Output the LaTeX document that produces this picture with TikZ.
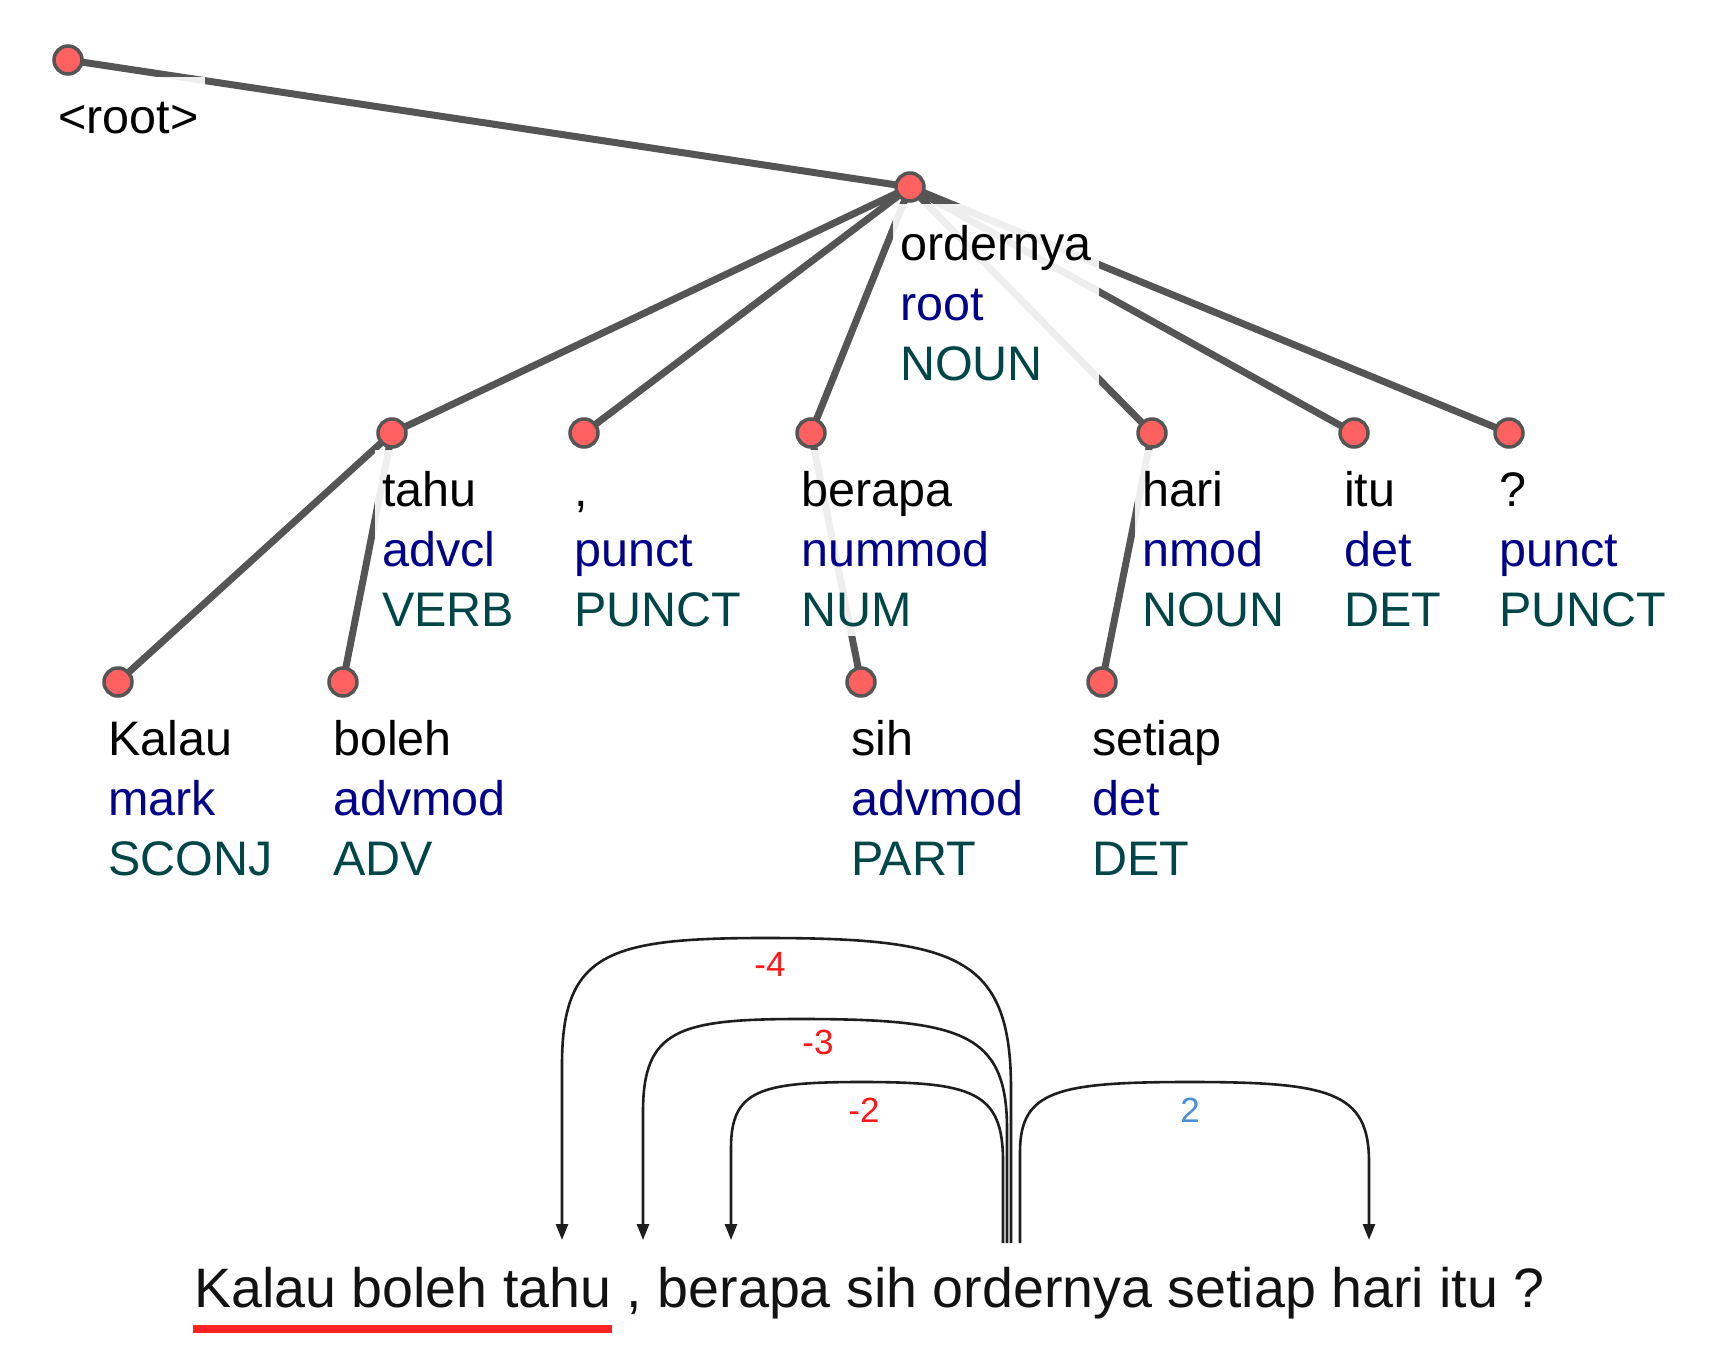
\documentclass[tikz,border=0pt]{standalone}
\usepackage{fontspec}
\setmainfont{Liberation Sans}
\usetikzlibrary{arrows.meta}
\pgfdeclarelayer{backlayer}
\pgfdeclarelayer{edgelayer}
\pgfdeclarelayer{labellayer}
\pgfsetlayers{backlayer,edgelayer,labellayer,main}
\definecolor{edgegray}{RGB}{85,85,85}
\definecolor{dotfill}{RGB}{255,96,96}
\definecolor{relblue}{RGB}{0,0,139}
\definecolor{posteal}{RGB}{0,70,72}
\definecolor{negred}{RGB}{255,24,24}
\definecolor{posblue}{RGB}{74,144,217}
\definecolor{ulred}{RGB}{255,34,34}
\definecolor{arcblack}{RGB}{30,30,30}
\newcommand\tok[3]{\rule{0pt}{56pt}#1\\\textcolor{relblue}{#2}\\\textcolor{posteal}{#3}\rule[-10pt]{0pt}{10pt}}
\newcommand\deparc[8]{%
  \pgfmathsetmacro\dpya{#5+#7}%
  \pgfmathsetmacro\dpyb{#5+#8}%
  \pgfmathsetmacro\dpca{#5+0.12*#7}%
  \pgfmathsetmacro\dpcb{#5+0.12*#8}%
  \pgfmathsetmacro\dpha{#3+0.22*(#6-#3)}%
  \pgfmathsetmacro\dphb{#4+0.22*(#6-#4)}%
  \draw[arcline] (#1) -- (#3,\dpya) .. controls (#3,\dpca) and (\dpha,#5) .. (#6,#5) .. controls (\dphb,#5) and (#4,\dpcb) .. (#4,\dpyb) -- (#2);%
}
\begin{document}
\begin{tikzpicture}[x=1pt,y=-1pt,
  treeedge/.style={draw=edgegray, line width=7pt},
  treedot/.style={circle, draw=edgegray, fill=dotfill, line width=3.5pt, minimum size=28pt, inner sep=0pt},
  toklabel/.style={anchor=north west, align=left, inner xsep=7pt, inner ysep=0pt, fill=white, fill opacity=0.9, text opacity=1, font=\fontsize{48.5}{60}\selectfont},
  arcline/.style={draw=arcblack, line width=2.6pt, -{Triangle[length=16pt,width=12pt]}},
  arclab/.style={font=\fontsize{35}{35}\selectfont, inner sep=0pt}]
\begin{pgfonlayer}{backlayer}
\fill[white] (0,0) rectangle (1721,1356);
\end{pgfonlayer}
\useasboundingbox (0,0) rectangle (1721,1356);

% tree nodes
\node[treedot] (n-root) at (68,60) {};
\node[treedot] (n-ord) at (910,187) {};
\node[treedot] (n-tahu) at (392,433) {};
\node[treedot] (n-comma) at (584,433) {};
\node[treedot] (n-berapa) at (811,433) {};
\node[treedot] (n-hari) at (1152,433) {};
\node[treedot] (n-itu) at (1354,433) {};
\node[treedot] (n-q) at (1509,433) {};
\node[treedot] (n-kalau) at (118,682) {};
\node[treedot] (n-boleh) at (343,682) {};
\node[treedot] (n-sih) at (861,682) {};
\node[treedot] (n-setiap) at (1102,682) {};

% tree edges
\begin{pgfonlayer}{edgelayer}
\draw[treeedge] (n-root.center) -- (n-ord.center);
\draw[treeedge] (n-ord.center) -- (n-tahu.center);
\draw[treeedge] (n-ord.center) -- (n-comma.center);
\draw[treeedge] (n-ord.center) -- (n-berapa.center);
\draw[treeedge] (n-ord.center) -- (n-hari.center);
\draw[treeedge] (n-ord.center) -- (n-itu.center);
\draw[treeedge] (n-ord.center) -- (n-q.center);
\draw[treeedge] (n-tahu.center) -- (n-kalau.center);
\draw[treeedge] (n-tahu.center) -- (n-boleh.center);
\draw[treeedge] (n-berapa.center) -- (n-sih.center);
\draw[treeedge] (n-hari.center) -- (n-setiap.center);
\end{pgfonlayer}

% token labels
\begin{pgfonlayer}{labellayer}
\node[toklabel] (l-root) at (51,77) {\rule{0pt}{56pt}<root>};
\node[toklabel] (l-ord) at (893,204) {\tok{ordernya}{root}{NOUN}};
\node[toklabel] (l-tahu) at (375,450) {\tok{tahu}{advcl}{VERB}};
\node[toklabel] (l-comma) at (567,450) {\tok{,}{punct}{PUNCT}};
\node[toklabel] (l-berapa) at (794,450) {\tok{berapa}{nummod}{NUM}};
\node[toklabel] (l-hari) at (1135,450) {\tok{hari}{nmod}{NOUN}};
\node[toklabel] (l-itu) at (1337,450) {\tok{itu}{det}{DET}};
\node[toklabel] (l-q) at (1492,450) {\tok{?}{punct}{PUNCT}};
\node[toklabel] (l-kalau) at (101,699) {\tok{Kalau}{mark}{SCONJ}};
\node[toklabel] (l-boleh) at (326,699) {\tok{boleh}{advmod}{ADV}};
\node[toklabel] (l-sih) at (844,699) {\tok{sih}{advmod}{PART}};
\node[toklabel] (l-setiap) at (1085,699) {\tok{setiap}{det}{DET}};
\end{pgfonlayer}

% sentence with arcs
\node[anchor=base west, inner sep=0pt, font=\fontsize{55.6}{60}\selectfont, text=black!93] (sent) at (194,1307) {Kalau boleh tahu , berapa sih ordernya setiap hari itu ?};
\coordinate (ula) at (193,1329);
\coordinate (ulb) at (612,1329);
\draw[draw=ulred, line width=8pt] (ula) -- (ulb);

\coordinate (s4) at (1011,1243); \coordinate (t4) at (562,1240);
\coordinate (s3) at (1007,1243); \coordinate (t3) at (643,1240);
\coordinate (s2) at (1003,1243); \coordinate (t2) at (731,1240);
\coordinate (sp2) at (1020,1243); \coordinate (tp2) at (1369,1240);
\deparc{s4}{t4}{1011}{562}{938}{765}{151}{127}
\deparc{s3}{t3}{1007}{643}{1019}{800}{110}{93}
\deparc{s2}{t2}{1003}{731}{1082}{862}{79}{66}
\deparc{sp2}{tp2}{1020}{1369}{1082}{1190}{70}{80}
\node[arclab, text=negred] (a4) at (770,964) {-4};
\node[arclab, text=negred] (a3) at (818,1042) {-3};
\node[arclab, text=negred] (a2) at (864,1110) {-2};
\node[arclab, text=posblue] (ap2) at (1190,1110) {2};
\end{tikzpicture}
\end{document}
